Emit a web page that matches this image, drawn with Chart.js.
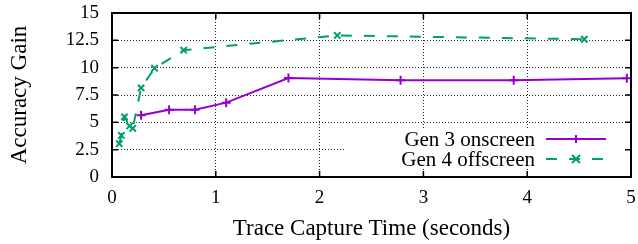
<!DOCTYPE html>
<html lang="en">
  <head>
    <meta charset="UTF-8" />
    <title>Accuracy Gain vs Trace Capture Time</title>
    <script src="https://cdn.jsdelivr.net/npm/chart.js"></script>
    <style>
      body {
        margin: 0;
        background-color: #ffffff;
      }
      canvas {
        display: block;
      }
    </style>
  </head>
  <body>
    <canvas id="gainChart" width="638" height="244"></canvas>
    <script>
      // values
      const gen3Time = [0.28, 0.55, 0.8, 1.1, 1.7, 2.78, 3.87, 4.96];
      const gen3Gain = [5.64, 6.15, 6.15, 6.8, 9.05, 8.85, 8.85, 9.03];
      const gen4Time = [0.07, 0.09, 0.12, 0.17, 0.2, 0.28, 0.41, 0.69, 2.17, 4.55];
      const gen4Gain = [3.05, 3.8, 5.5, 4.67, 4.45, 8.15, 9.95, 11.6, 12.95, 12.6];
      const seriesNames = ["Gen 3 onscreen", "Gen 4 offscreen"];

      const purple = "#9400D3";
      const green = "#009E73";
      const serif = "'Liberation Serif', 'DejaVu Serif', serif";

      const toPoints = (xs, ys) => xs.map((x, i) => ({ x: x, y: ys[i] }));

      // gnuplot style: solid frame with inward ticks on all four sides
      const framePlugin = {
        id: "frame",
        afterDraw(chart) {
          const { ctx, chartArea: a, scales } = chart;
          ctx.save();
          ctx.strokeStyle = "#000";
          ctx.lineWidth = 1.5;
          const len = 6;
          ctx.beginPath();
          scales.x.ticks.forEach((t) => {
            const px = scales.x.getPixelForValue(t.value);
            ctx.moveTo(px, a.bottom);
            ctx.lineTo(px, a.bottom - len);
            ctx.moveTo(px, a.top);
            ctx.lineTo(px, a.top + len);
          });
          scales.y.ticks.forEach((t) => {
            const py = scales.y.getPixelForValue(t.value);
            ctx.moveTo(a.left, py);
            ctx.lineTo(a.left + len, py);
            ctx.moveTo(a.right, py);
            ctx.lineTo(a.right - len, py);
          });
          ctx.stroke();
          ctx.lineWidth = 2;
          ctx.strokeRect(a.left, a.top, a.right - a.left, a.bottom - a.top);
          ctx.restore();
        },
      };

      // key box in the lower right, drawn over the grid
      const keyPlugin = {
        id: "key",
        afterDatasetsDraw(chart) {
          const { ctx } = chart;
          ctx.save();
          ctx.fillStyle = "#fff";
          ctx.fillRect(345, 130, 278, 38);
          ctx.font = "21px " + serif;
          ctx.textAlign = "right";
          ctx.textBaseline = "middle";
          const rows = [139, 159];
          const colors = [purple, green];
          rows.forEach((y, i) => {
            ctx.fillStyle = "#000";
            ctx.fillText(seriesNames[i], 535, y + 1);
            ctx.strokeStyle = colors[i];
            ctx.lineWidth = 2;
            ctx.setLineDash(i === 1 ? [11, 12] : []);
            ctx.beginPath();
            ctx.moveTo(546, y);
            ctx.lineTo(606, y);
            ctx.stroke();
            ctx.setLineDash([]);
            ctx.beginPath();
            const mx = 576, r = 4;
            if (i === 0) {
              ctx.moveTo(mx - r, y);
              ctx.lineTo(mx + r, y);
              ctx.moveTo(mx, y - r);
              ctx.lineTo(mx, y + r);
            } else {
              ctx.moveTo(mx - r, y - r);
              ctx.lineTo(mx + r, y + r);
              ctx.moveTo(mx - r, y + r);
              ctx.lineTo(mx + r, y - r);
            }
            ctx.stroke();
          });
          ctx.restore();
        },
      };

      const gainChart = document.getElementById("gainChart").getContext("2d");

      new Chart(gainChart, {
        type: "line",
        data: {
          datasets: [
            {
              label: seriesNames[0],
              data: toPoints(gen3Time, gen3Gain),
              borderColor: purple,
              backgroundColor: purple,
              borderWidth: 2,
              pointStyle: "cross",
              pointRadius: 4.5,
              pointBorderWidth: 2,
              tension: 0,
              fill: false,
            },
            {
              label: seriesNames[1],
              data: toPoints(gen4Time, gen4Gain),
              borderColor: green,
              backgroundColor: green,
              borderWidth: 2,
              borderDash: [11, 12],
              pointStyle: "crossRot",
              pointRadius: 4.5,
              pointBorderWidth: 2,
              tension: 0,
              fill: false,
            },
          ],
        },
        options: {
          responsive: false,
          animation: false,
          layout: {
            padding: { left: 0, right: 7, top: 13, bottom: 0 },
          },
          plugins: {
            legend: { display: false },
            tooltip: { enabled: false },
          },
          scales: {
            x: {
              type: "linear",
              min: 0,
              max: 5,
              ticks: {
                stepSize: 1,
                autoSkip: false,
                maxRotation: 0,
                color: "#000",
                padding: 10,
                font: { family: serif, size: 19 },
              },
              grid: {
                color: "rgba(0,0,0,0.85)",
                lineWidth: 1,
                drawTicks: false,
              },
              border: { display: false, dash: [1, 2] },
              title: {
                display: true,
                text: "Trace Capture Time (seconds)",
                color: "#000",
                font: { family: serif, size: 23 },
                padding: { top: 0, bottom: 1 },
              },
              afterFit(scale) {
                scale.height = 67;
                scale.paddingLeft = 0;
                scale.paddingRight = 0;
              },
            },
            y: {
              min: 0,
              max: 15,
              ticks: {
                stepSize: 2.5,
                autoSkip: false,
                color: "#000",
                padding: 13,
                font: { family: serif, size: 19 },
              },
              grid: {
                color: "rgba(0,0,0,0.85)",
                lineWidth: 1,
                drawTicks: false,
              },
              border: { display: false, dash: [1, 2] },
              title: {
                display: true,
                text: "Accuracy Gain",
                color: "#000",
                font: { family: serif, size: 23 },
                padding: { top: 6, bottom: 0 },
              },
              afterFit(scale) {
                scale.width = 112;
                scale.paddingTop = 0;
                scale.paddingBottom = 0;
              },
            },
          },
        },
        plugins: [keyPlugin, framePlugin],
      });
    </script>
  </body>
</html>
